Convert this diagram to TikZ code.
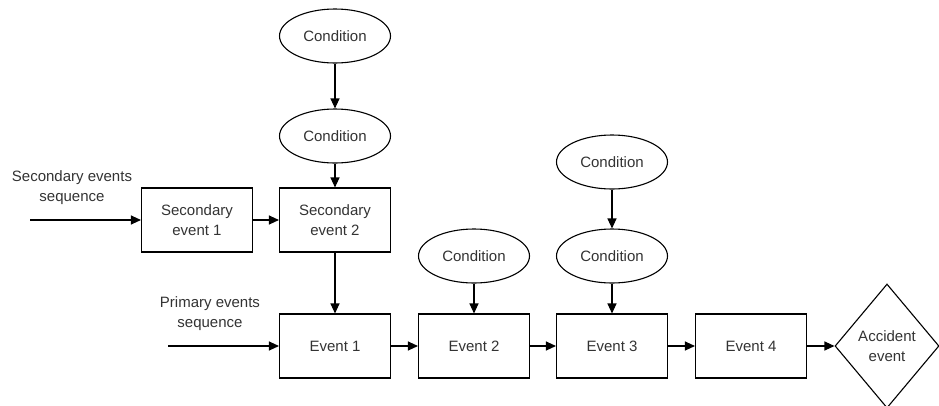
\documentclass[tikz,border=0pt]{standalone}
\usepackage{fontspec}
\setmainfont{Liberation Sans}
\usepackage{tikz}
\usetikzlibrary{arrows.meta,shapes.geometric}
\definecolor{inkgray}{HTML}{333333}
\tikzset{
	eventbox/.style={draw, line width=1.1pt, minimum width=111pt, minimum height=64pt, inner sep=0pt, align=center, text=inkgray},
	condbubble/.style={draw, ellipse, line width=1.1pt, minimum width=111pt, minimum height=54pt, inner sep=0pt, text=inkgray},
	accidentbox/.style={draw, diamond, line width=1.1pt, minimum width=104pt, minimum height=124pt, inner sep=0pt, align=center, text=inkgray},
	seqlabel/.style={align=center, text=inkgray},
	flow/.style={line width=1.1pt, -{Triangle[length=10pt,width=9pt]}}
}

\begin{document}
\begin{tikzpicture}[x=1pt, y=-1pt, font=\fontsize{15}{20}\selectfont]
		%%%%% START %%%%%
		\useasboundingbox (0, 0) rectangle (939, 405);
		
		\node[condbubble] (cond1top) at (335, 36) {Condition};
		\node[condbubble] (cond1low) at (335, 136) {Condition};
		\node[condbubble] (cond2) at (474, 256) {Condition};
		\node[condbubble] (cond3top) at (612, 162) {Condition};
		\node[condbubble] (cond3low) at (612, 256) {Condition};
		
		\node[eventbox] (sec1) at (197, 220) {Secondary\\event 1};
		\node[eventbox] (sec2) at (335, 220) {Secondary\\event 2};
		
		\node[eventbox] (ev1) at (335, 346) {Event 1};
		\node[eventbox] (ev2) at (474, 346) {Event 2};
		\node[eventbox] (ev3) at (612, 346) {Event 3};
		\node[eventbox] (ev4) at (751, 346) {Event 4};
		\node[accidentbox] (accident) at (887, 346) {Accident\\event};
		
		\node[seqlabel] (seclabel) at (72, 188) {Secondary events\\sequence};
		\node[seqlabel] (primlabel) at (210, 314) {Primary events\\sequence};
		\coordinate (secstart) at (30, 220);
		\coordinate (primstart) at (168, 346);
		
		\draw[flow] (secstart) -- (sec1);
		\draw[flow] (sec1) -- (sec2);
		\draw[flow] (cond1top) -- (cond1low);
		\draw[flow] (cond1low) -- (sec2);
		\draw[flow] (sec2) -- (ev1);
		
		\draw[flow] (primstart) -- (ev1);
		\draw[flow] (ev1) -- (ev2);
		\draw[flow] (ev2) -- (ev3);
		\draw[flow] (ev3) -- (ev4);
		\draw[flow] (ev4) -- (accident);
		
		\draw[flow] (cond2) -- (ev2);
		\draw[flow] (cond3top) -- (cond3low);
		\draw[flow] (cond3low) -- (ev3);
		
		%%%%% END %%%%%
\end{tikzpicture}
\end{document}
